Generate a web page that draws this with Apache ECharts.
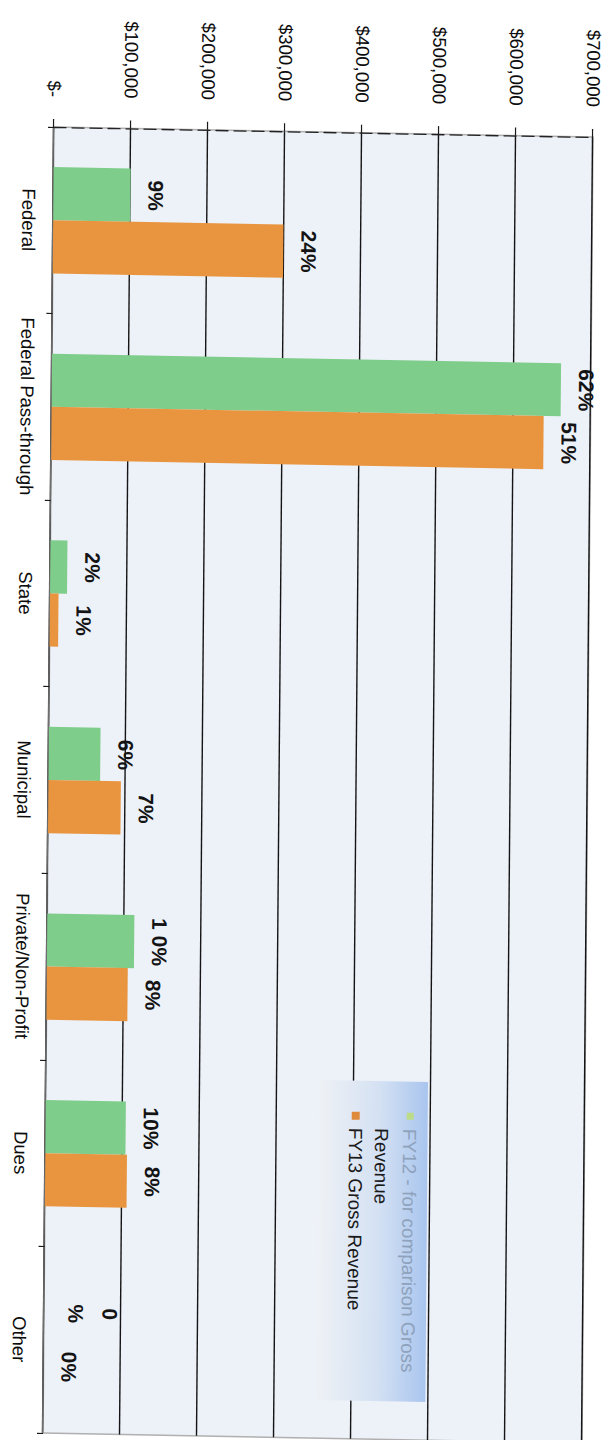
<!DOCTYPE html>
<html>
<head>
<meta charset="utf-8">
<script src="https://cdn.jsdelivr.net/npm/echarts@6/dist/echarts.min.js"></script>
<style>
html, body { margin: 0; padding: 0; background: #ffffff; width: 613px; height: 1440px; overflow: hidden; }
/* the chart is drawn upright, then turned a quarter-turn clockwise (with the slight skew of the scanned page) */
#chart { position: absolute; left: 0; top: 0; width: 1440px; height: 613px; transform-origin: 0 0;
  transform: matrix(-0.00842, 1, -1, -0.01855, 614.07, 10.37); }
</style>
</head>
<body>
<div id="chart"></div>
<script>
// ---- data ----
const categories = ['Federal', 'Federal Pass-through', 'State', 'Municipal', 'Private/Non-Profit', 'Dues', 'Other'];
const seriesNames = ['FY12 - for comparison Gross Revenue', 'FY13 Gross Revenue'];
const fy12Values = [100000, 661000, 22000, 67000, 113000, 104000, 0];
const fy13Values = [299000, 639000, 11000, 94000, 105000, 106000, 0];
const fy12Labels = ['9%', '62%', '2%', '6%', '1 0%', '10%', '0\n%'];
const fy13Labels = ['24%', '51%', '1%', '7%', '8%', '8%', '0%'];
const valueTickLabels = ['$-', '$100,000', '$200,000', '$300,000', '$400,000', '$500,000', '$600,000', '$700,000'];

const FONT = '"Liberation Sans", Arial, Helvetica, sans-serif';
const GREEN = '#7fcd8a';
const ORANGE = '#e9953f';

const chart = echarts.init(document.getElementById('chart'), null, { renderer: 'svg' });

function makeData(values, labels) {
  return values.map((v, i) => {
    const item = { value: v, label: { formatter: labels[i] } };
    if (labels[i].indexOf('\n') >= 0) item.label.lineHeight = 34;
    return item;
  });
}

const baseLabel = {
  show: true, position: 'top', distance: 15,
  fontFamily: FONT, fontSize: 21, fontWeight: 'bold', color: '#141414'
};

const nameParts = (function () {
  const n = seriesNames[0];
  const k = n.lastIndexOf(' ');
  return [n.slice(0, k), n.slice(k + 1)];
})();

const option = {
  animation: false,
  backgroundColor: '#ffffff',
  grid: {
    left: 127, right: 7, top: 20, bottom: 54,
    show: true, backgroundColor: '#edf1f8', borderColor: '#b0b0b0', borderWidth: 1.5
  },
  xAxis: {
    type: 'category',
    data: categories,
    axisLine: { show: true, lineStyle: { color: '#6e6e6e', width: 1.2 } },
    axisTick: { show: true, length: 6, lineStyle: { color: '#1a1a1a', width: 1.2 } },
    axisLabel: { interval: 0, margin: 15, fontFamily: FONT, fontSize: 18.5, color: '#0c0c0c' },
    splitLine: { show: false }
  },
  yAxis: {
    type: 'value',
    min: 0, max: 700000, interval: 100000,
    axisLine: { show: true, lineStyle: { color: '#222', width: 1.3, type: [12, 6] } },
    axisTick: { show: true, length: 8, lineStyle: { color: '#1a1a1a', width: 1.2 } },
    axisLabel: {
      margin: 30, fontFamily: FONT, fontSize: 18.5, color: '#0c0c0c',
      formatter: function (v) { return valueTickLabels[Math.round(v / 100000)]; }
    },
    splitLine: { show: true, lineStyle: { color: '#151515', width: 1.4 } }
  },
  series: [
    {
      name: seriesNames[0], type: 'bar',
      data: makeData(fy12Values, fy12Labels),
      itemStyle: { color: GREEN },
      barGap: '0%', barCategoryGap: '43%',
      label: baseLabel
    },
    {
      name: seriesNames[1], type: 'bar',
      data: makeData(fy13Values, fy13Labels),
      itemStyle: { color: ORANGE },
      barGap: '0%', barCategoryGap: '43%',
      label: baseLabel
    }
  ],
  graphic: [
    {
      type: 'rect', z: 100,
      shape: { x: 1075, y: 177, width: 320, height: 108 },
      style: {
        fill: new echarts.graphic.LinearGradient(0, 0, 0, 1, [
          { offset: 0, color: '#a9c5ee' },
          { offset: 0.45, color: '#d4e1f3' },
          { offset: 1, color: '#eef1f5' }
        ])
      }
    },
    {
      type: 'rect', z: 101,
      shape: { x: 1106, y: 191, width: 7, height: 7 },
      style: { fill: '#bcdc88' }
    },
    {
      type: 'text', z: 101, x: 1122, y: 195,
      style: { text: nameParts[0], fontFamily: FONT, fontSize: 19, fill: '#8ea2bc', align: 'left', verticalAlign: 'middle' }
    },
    {
      type: 'text', z: 101, x: 1122, y: 223,
      style: { text: nameParts[1], fontFamily: FONT, fontSize: 19, fill: '#1a1a1a', align: 'left', verticalAlign: 'middle' }
    },
    {
      type: 'rect', z: 101,
      shape: { x: 1106, y: 245, width: 8, height: 8 },
      style: { fill: '#df8a3a' }
    },
    {
      type: 'text', z: 101, x: 1122, y: 249,
      style: { text: seriesNames[1], fontFamily: FONT, fontSize: 19, fill: '#1a1a1a', align: 'left', verticalAlign: 'middle' }
    }
  ]
};

chart.setOption(option);
</script>
</body>
</html>
